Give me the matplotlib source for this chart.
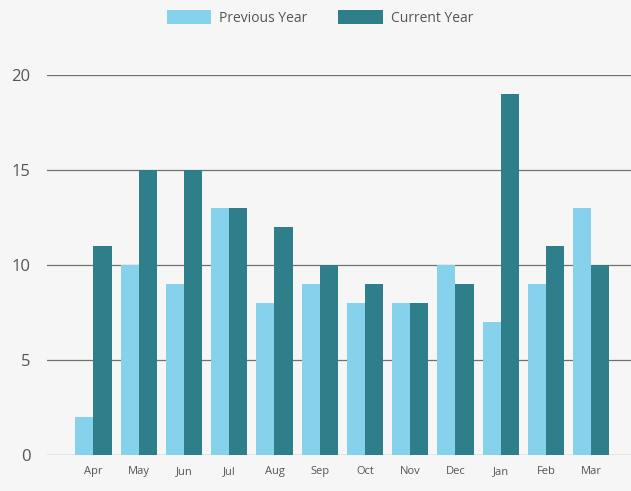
import matplotlib
matplotlib.use("Agg")
import matplotlib.pyplot as plt
import numpy as np

months = ["Apr", "May", "Jun", "Jul", "Aug", "Sep", "Oct", "Nov", "Dec", "Jan", "Feb", "Mar"]
previous_year = [2, 10, 9, 13, 8, 9, 8, 8, 10, 7, 9, 13]
current_year = [11, 15, 15, 13, 12, 10, 9, 8, 9, 19, 11, 10]
y_ticks = [0, 5, 10, 15, 20]

plt.rcParams['font.family'] = ['Open Sans', 'DejaVu Sans']

bg = "#f6f6f6"
fig = plt.figure(figsize=(6.31, 4.91), dpi=100, facecolor=bg)
ax = fig.add_axes([0.075, 0.073, 0.925, 0.774], facecolor=bg)

x = np.arange(len(months))
w = 0.4
light = "#86d2ec"
dark = "#2f7f8b"
ax.bar(x - w / 2, previous_year, width=w, color=light, label="Previous Year", zorder=3)
ax.bar(x + w / 2, current_year, width=w, color=dark, label="Current Year", zorder=3)

ax.set_ylim(0, 20)
ax.set_xlim(-1.02, 11.88)
ax.set_yticks(y_ticks)
ax.set_xticks(x)
ax.set_xticklabels(months, fontsize=8, color="#555555")
ax.tick_params(axis="y", labelsize=12, colors="#555555", length=0, pad=12)
ax.tick_params(axis="x", length=0, pad=8)
ax.yaxis.grid(True, color="#707070", linewidth=0.9, zorder=0)
ax.xaxis.grid(False)
for s in ["top", "right", "left", "bottom"]:
    ax.spines[s].set_visible(False)

fig.legend(loc="center", bbox_to_anchor=(0.507, 0.963), ncol=2, frameon=False,
           fontsize=10, labelcolor="#555555", handlelength=3.2, handleheight=1.1,
           columnspacing=2.2, handletextpad=0.6)

fig.savefig("out.png", dpi=100, facecolor=bg)
